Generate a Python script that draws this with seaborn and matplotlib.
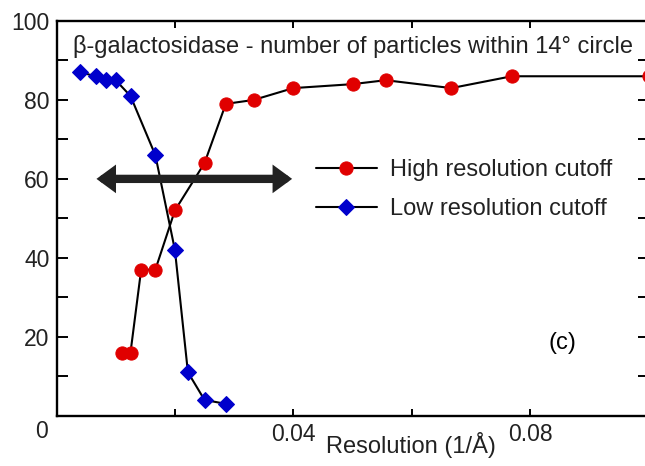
import matplotlib
matplotlib.use("Agg")
import matplotlib.pyplot as plt
import seaborn as sns
import pandas as pd
from matplotlib.ticker import FixedLocator

# ---- data ----
high_x = [0.0111, 0.0125, 0.0143, 0.0167, 0.0200, 0.0250, 0.0286, 0.0333, 0.0400,
          0.0500, 0.0556, 0.0667, 0.0769, 0.1000]
high_y = [16, 16, 37, 37, 52, 64, 79, 80, 83, 84, 85, 83, 86, 86]

low_x = [0.0040, 0.00667, 0.00833, 0.0100, 0.0125, 0.0167, 0.0200, 0.0222, 0.0250, 0.0286]
low_y = [87, 86, 85, 85, 81, 66, 42, 11, 4, 3]

series_names = ["High resolution cutoff", "Low resolution cutoff"]
title_text = "β-galactosidase - number of particles within 14° circle"
xlabel_text = "Resolution (1/Å)"
x_major = [0.04, 0.08]
x_major_labels = ["0.04", "0.08"]
x_minor = [0.02, 0.06, 0.10]
y_major = [20, 40, 60, 80, 100]
y_minor = [10, 30, 50, 70, 90]
arrow_span = (0.00675, 0.0398, 60)

sns.set_style("ticks")
plt.rcParams["font.family"] = ["Liberation Sans", "DejaVu Sans"]

W, H = 645, 466
fig = plt.figure(figsize=(W / 100, H / 100), dpi=100)
left, right, top, bottom = 56.5, 648.5, 21.0, 415.7
ax = fig.add_axes([left / W, 1 - bottom / H, (right - left) / W, (bottom - top) / H])

df_high = pd.DataFrame({"x": high_x, "y": high_y})
df_low = pd.DataFrame({"x": low_x, "y": low_y})

sns.lineplot(data=df_high, x="x", y="y", ax=ax, color="black", lw=1.5,
             marker="o", markersize=9.5, markerfacecolor="#e00000",
             markeredgecolor="#e00000", label=series_names[0], sort=False,
             clip_on=False, zorder=3)
sns.lineplot(data=df_low, x="x", y="y", ax=ax, color="black", lw=1.5,
             marker="D", markersize=7.8, markerfacecolor="#0000cc",
             markeredgecolor="#0000cc", label=series_names[1], sort=False,
             clip_on=False, zorder=3)

ax.set_xlim(0, 0.1)
ax.set_ylim(0, 100)

ax.xaxis.set_major_locator(FixedLocator(x_major))
ax.xaxis.set_minor_locator(FixedLocator(x_minor))
ax.set_xticklabels(x_major_labels)
ax.yaxis.set_major_locator(FixedLocator(y_major))
ax.yaxis.set_minor_locator(FixedLocator(y_minor))
ax.set_yticklabels([str(v) for v in y_major])

ax.tick_params(axis="both", which="both", direction="in", top=True, right=True,
               width=1.4, color="black", labelsize=16.5, labelcolor="#222222")
ax.tick_params(axis="x", which="both", length=5, pad=5)
ax.tick_params(axis="y", which="both", length=8, pad=5)
for s in ax.spines.values():
    s.set_linewidth(1.7)
    s.set_color("black")

ax.set_xlabel(xlabel_text, fontsize=17, color="#222222")
ax.set_ylabel("")
ax.xaxis.set_label_coords((411 - left) / (right - left), -(445 - bottom) / (bottom - top), transform=ax.transAxes)
ax.xaxis.label.set_va("center")

fig.text(42 / W, 1 - 431 / H, "0", fontsize=16.5, color="#222222", ha="center", va="center")

ax.text((73 - left) / (right - left), (bottom - 47) / (bottom - top), title_text,
        transform=ax.transAxes, fontsize=17, color="#222222", ha="left", va="center")

ax.text((562 - left) / (right - left), (bottom - 343) / (bottom - top), "(c)",
        transform=ax.transAxes, fontsize=17, color="black", ha="center", va="center")

ax.annotate("", xy=(arrow_span[0], arrow_span[2]), xytext=(arrow_span[1], arrow_span[2]),
            arrowprops=dict(arrowstyle="<|-|>,head_length=0.3,head_width=0.22",
                            lw=6, color="#222222", mutation_scale=20,
                            shrinkA=0, shrinkB=0, joinstyle="miter"))

leg = ax.legend(loc="upper left", bbox_to_anchor=((318 - left) / (right - left) - 0.02, (bottom - 150) / (bottom - top)),
                frameon=False, fontsize=17, handlelength=2.6, handletextpad=0.55,
                labelspacing=0.72, borderaxespad=0)
for t in leg.get_texts():
    t.set_color("#222222")

fig.savefig("out.png", dpi=100)
